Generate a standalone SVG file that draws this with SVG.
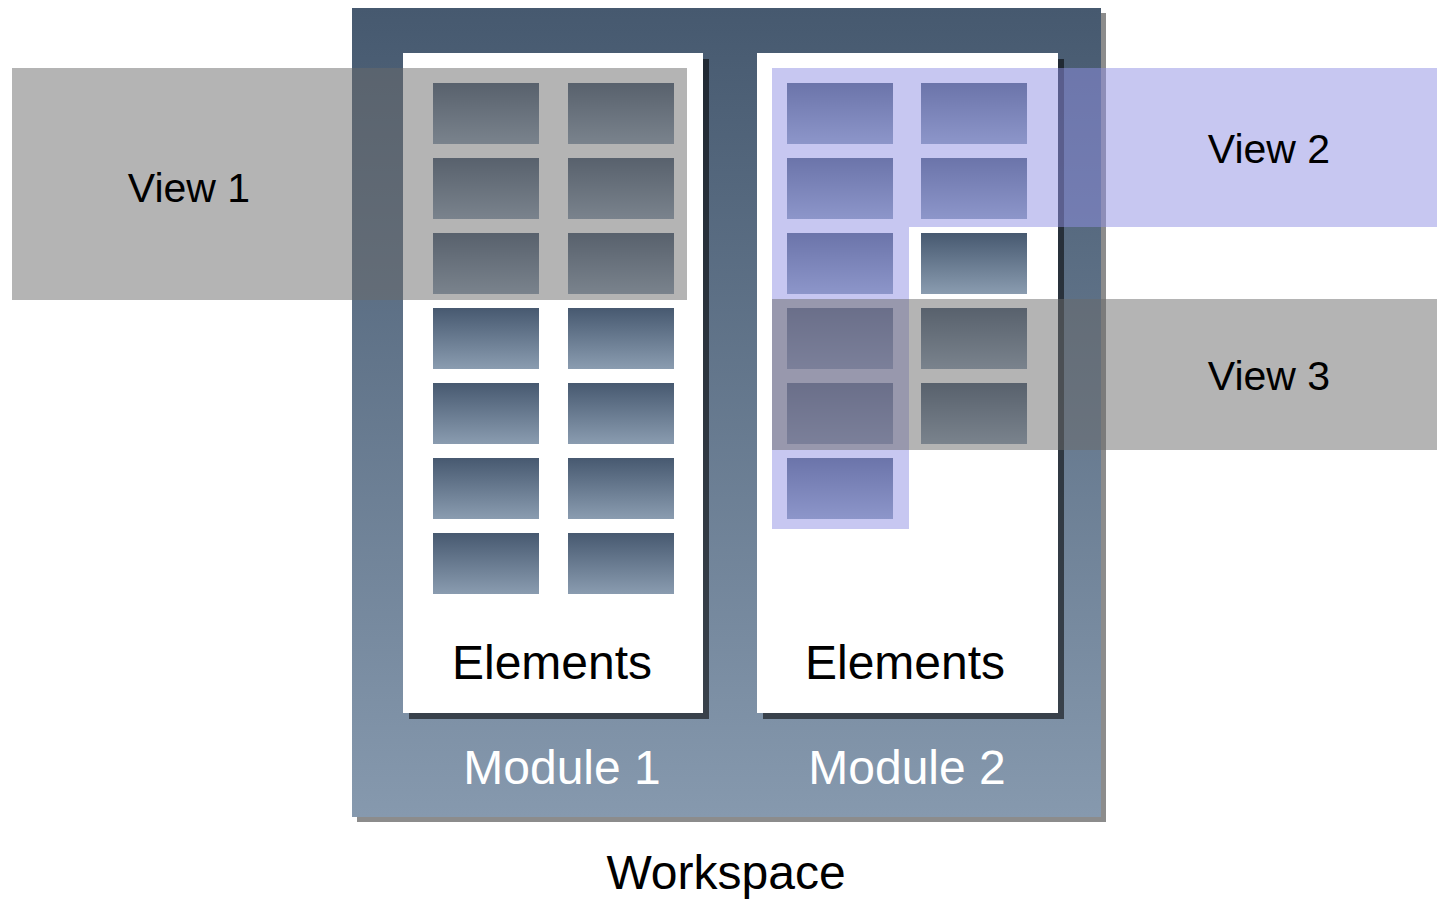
<svg xmlns="http://www.w3.org/2000/svg" width="1437" height="899" viewBox="0 0 1437 899">
  <defs>
    <linearGradient id="wsGrad" x1="0" y1="0" x2="0" y2="1">
      <stop offset="0" stop-color="#46596f"/>
      <stop offset="1" stop-color="#8699ae"/>
    </linearGradient>
    <linearGradient id="elGrad" x1="0" y1="0" x2="0" y2="1">
      <stop offset="0" stop-color="#475970"/>
      <stop offset="1" stop-color="#8a9cb0"/>
    </linearGradient>
    <style>
      .shadow { fill: #000; opacity: 0.45; }
      .module { fill: #ffffff; }
      .el { fill: url(#elGrad); }
      .big { font-family: "Liberation Sans", Arial, sans-serif; font-size: 48px; text-anchor: middle; }
      .view-text { font-family: "Liberation Sans", Arial, sans-serif; font-size: 41px; text-anchor: middle; fill: #000; }
      .gray-view { fill: #6a6a6a; opacity: 0.5; }
      .blue-view { fill: #9090e4; opacity: 0.5; }
    </style>
  </defs>
  <rect width="1437" height="899" fill="#ffffff"/>

  <g id="workspace">
    <rect class="shadow" x="357" y="13" width="749" height="809"/>
    <rect x="352" y="8" width="749" height="809" fill="url(#wsGrad)"/>
    <text class="big" x="726" y="889" fill="#000">Workspace</text>
  </g>

  <g id="module1">
    <rect class="shadow" x="409" y="59" width="300" height="660" style="opacity:0.55"/>
    <rect class="module" x="403" y="53" width="300" height="660"/>
    <g id="module1-elements">
      <rect class="el" x="433" y="83" width="106" height="61"/>
      <rect class="el" x="568" y="83" width="106" height="61"/>
      <rect class="el" x="433" y="158" width="106" height="61"/>
      <rect class="el" x="568" y="158" width="106" height="61"/>
      <rect class="el" x="433" y="233" width="106" height="61"/>
      <rect class="el" x="568" y="233" width="106" height="61"/>
      <rect class="el" x="433" y="308" width="106" height="61"/>
      <rect class="el" x="568" y="308" width="106" height="61"/>
      <rect class="el" x="433" y="383" width="106" height="61"/>
      <rect class="el" x="568" y="383" width="106" height="61"/>
      <rect class="el" x="433" y="458" width="106" height="61"/>
      <rect class="el" x="568" y="458" width="106" height="61"/>
      <rect class="el" x="433" y="533" width="106" height="61"/>
      <rect class="el" x="568" y="533" width="106" height="61"/>
    </g>
    <text class="big" x="552" y="679" fill="#000">Elements</text>
    <text class="big" x="562" y="784" fill="#ffffff">Module 1</text>
  </g>

  <g id="module2">
    <rect class="shadow" x="763" y="59" width="301" height="660" style="opacity:0.55"/>
    <rect class="module" x="757" y="53" width="301" height="660"/>
    <g id="module2-elements">
      <rect class="el" x="787" y="83" width="106" height="61"/>
      <rect class="el" x="921" y="83" width="106" height="61"/>
      <rect class="el" x="787" y="158" width="106" height="61"/>
      <rect class="el" x="921" y="158" width="106" height="61"/>
      <rect class="el" x="787" y="233" width="106" height="61"/>
      <rect class="el" x="921" y="233" width="106" height="61"/>
      <rect class="el" x="787" y="308" width="106" height="61"/>
      <rect class="el" x="921" y="308" width="106" height="61"/>
      <rect class="el" x="787" y="383" width="106" height="61"/>
      <rect class="el" x="921" y="383" width="106" height="61"/>
      <rect class="el" x="787" y="458" width="106" height="61"/>
    </g>
    <text class="big" x="905" y="679" fill="#000">Elements</text>
    <text class="big" x="907" y="784" fill="#ffffff">Module 2</text>
  </g>

  <g id="view1">
    <rect class="gray-view" x="12" y="68" width="675" height="232"/>
    <text class="view-text" x="189" y="202">View 1</text>
  </g>

  <g id="view2">
    <path class="blue-view" d="M772 68 H1437 V227 H909 V529 H772 Z"/>
    <text class="view-text" x="1269" y="163">View 2</text>
  </g>

  <g id="view3">
    <rect class="gray-view" x="772" y="299" width="665" height="151"/>
    <text class="view-text" x="1269" y="390">View 3</text>
  </g>
</svg>
